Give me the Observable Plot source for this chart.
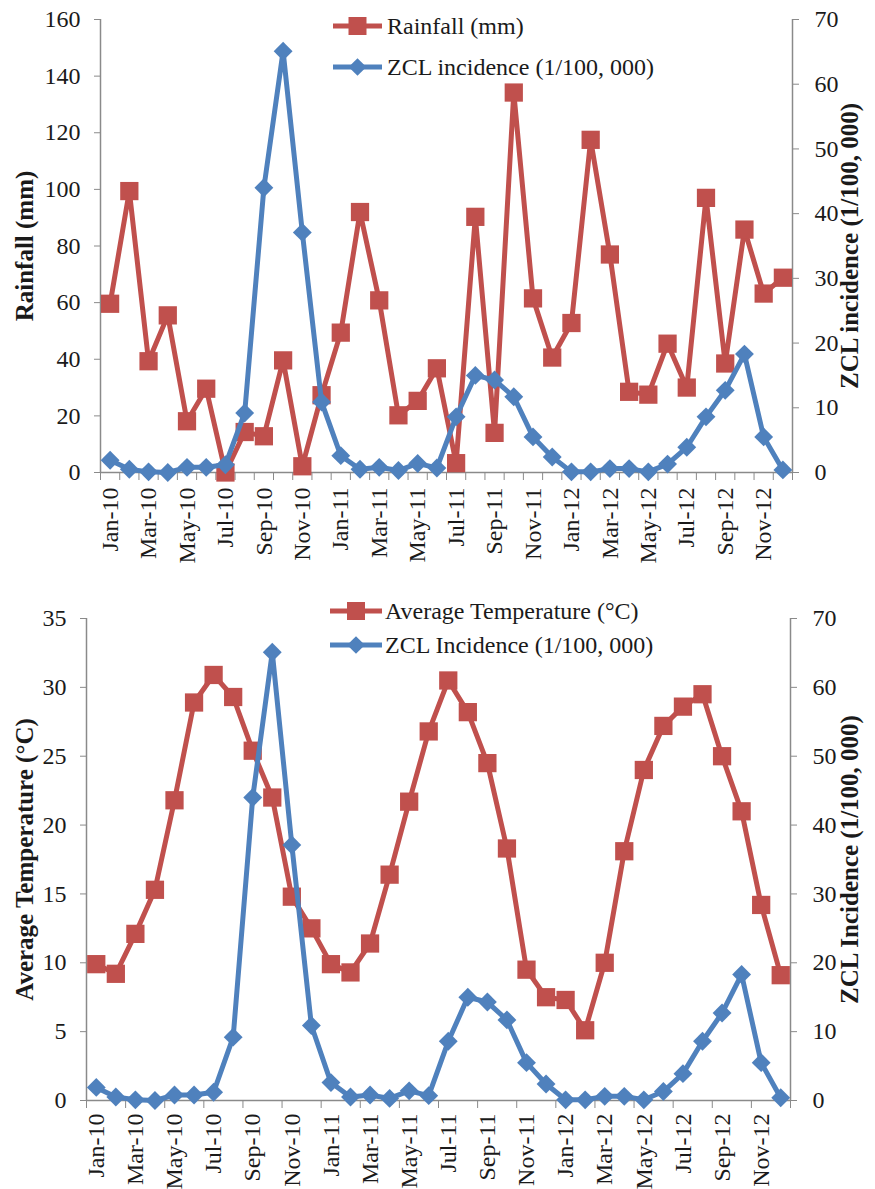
<!DOCTYPE html>
<html><head><meta charset="utf-8">
<script src="https://cdn.jsdelivr.net/npm/d3@7"></script>
<script src="https://cdn.jsdelivr.net/npm/@observablehq/plot@0.6"></script>
<style>
body{margin:0;background:#fff;font-family:"Liberation Serif","Times New Roman",serif;}
#wrap{position:relative;width:875px;height:1189px;overflow:hidden;}
.panel{position:absolute;left:0;}
.panel svg{overflow:visible;}
g[aria-label="y-axis label"] text{font-weight:bold;font-size:25px;}
.legend{position:absolute;left:0;top:0;}
</style></head><body>
<div id="wrap"></div>
<script>
const months = ["Jan-10","Feb-10","Mar-10","Apr-10","May-10","Jun-10","Jul-10","Aug-10","Sep-10","Oct-10","Nov-10","Dec-10",
"Jan-11","Feb-11","Mar-11","Apr-11","May-11","Jun-11","Jul-11","Aug-11","Sep-11","Oct-11","Nov-11","Dec-11",
"Jan-12","Feb-12","Mar-12","Apr-12","May-12","Jun-12","Jul-12","Aug-12","Sep-12","Oct-12","Nov-12","Dec-12"];
const rainfall = [59.6,99.4,39.3,55.5,18.1,29.6,0,14.3,12.8,39.6,2.2,27.3,
49.4,92,60.8,20.2,25.3,36.8,3.3,90.3,14,134.2,61.5,40.6,
52.8,117.5,77,28.5,27.5,45.5,30,97,38.5,85.8,63.2,68.8];
const zcl = [1.9,0.5,0.1,0,0.8,0.8,1.2,9.2,44,65.1,37.1,10.9,
2.6,0.5,0.8,0.3,1.4,0.7,8.6,15,14.3,11.7,5.5,2.4,
0.1,0.1,0.6,0.6,0.1,1.3,3.9,8.6,12.7,18.3,5.5,0.4];
const temperature = [9.9,9.2,12.1,15.3,21.8,28.9,30.9,29.3,25.4,22,14.8,12.5,
9.9,9.3,11.4,16.4,21.7,26.8,30.5,28.2,24.5,18.3,9.5,7.5,
7.3,5.1,10,18.1,24,27.2,28.6,29.5,25,21,14.2,9.1];
const rainTicks = [0,20,40,60,80,100,120,140,160];
const tempTicks = [0,5,10,15,20,25,30,35];
const zclTicks = [0,10,20,30,40,50,60,70];
const legendTop = ["Rainfall (mm)","ZCL incidence (1/100, 000)"];
const legendBottom = ["Average Temperature (\u00B0C)","ZCL Incidence (1/100, 000)"];
const titlesTop = ["Rainfall (mm)","ZCL incidence (1/100, 000)"];
const titlesBottom = ["Average Temperature (\u00B0C)","ZCL Incidence (1/100, 000)"];

const red = "#C0504D", blue = "#4F81BD", gray = "#8A8A8A", ink = "#1a1a1a";
const data = months.map((m,i)=>({i, m, rain: rainfall[i], zcl: zcl[i], temp: temperature[i]}));
const xDomain = [-0.5, months.length - 0.5];
const font = {fontFamily:"'Liberation Serif','Times New Roman',serif", fontSize:"24px", color: ink, background:"transparent", overflow:"visible"};

function panel({leftMax, leftTicks, leftKey, titles, boundaryStep, height, mL, mR, mT, mB, labelPad}) {
  const k = leftMax / 70;
  return Plot.plot({
    width: 875, height, marginLeft: mL, marginRight: mR, marginTop: mT, marginBottom: mB,
    style: font,
    x: {domain: xDomain, axis: null},
    y: {domain: [0, leftMax], axis: null},
    marks: [
      Plot.ruleX(xDomain, {stroke: gray, strokeWidth: 1.5}),
      Plot.ruleY([0], {stroke: gray, strokeWidth: 1.5}),
      Plot.axisY(leftTicks, {anchor:"left", tickSize:6, tickPadding:14, stroke: gray, fill: ink,
        label: titles[0], labelAnchor:"center", labelArrow:"none", labelOffset: mL - 15}),
      Plot.axisY(zclTicks.map(v => v*k), {anchor:"right", tickSize:6, tickPadding:16, stroke: gray, fill: ink,
        tickFormat: d => Math.round(d / k),
        label: titles[1], labelAnchor:"center", labelArrow:"none", labelOffset: mR - 18}),
      Plot.axisX(d3.range(0, months.length, 2), {anchor:"bottom", tickSize:0, tickPadding: labelPad, tickRotate:-90,
        tickFormat: i => months[i], label: null, fill: ink}),
      Plot.axisX(d3.range(xDomain[0], xDomain[1] + 0.01, boundaryStep), {anchor:"bottom", tickSize:8, text: null, label: null, stroke: gray}),
      Plot.line(data, {x:"i", y: leftKey, stroke: red, strokeWidth: 5}),
      Plot.dot(data, {x:"i", y: leftKey, symbol:"square", fill: red, r: 10.3}),
      Plot.line(data, {x:"i", y: d => d.zcl * k, stroke: blue, strokeWidth: 5}),
      Plot.dot(data, {x:"i", y: d => d.zcl * k, symbol:"diamond2", fill: blue, r: 8.5})
    ]
  });
}

const wrap = d3.select("#wrap");
const p1 = panel({leftMax:160, leftTicks: rainTicks, leftKey:"rain", titles: titlesTop, boundaryStep:1,
  height:575, mL:100, mR:83, mT:19, mB:103, labelPad:15});
wrap.append("div").attr("class","panel").style("top","0px").node().appendChild(p1);
const p2 = panel({leftMax:35, leftTicks: tempTicks, leftKey:"temp", titles: titlesBottom, boundaryStep:2,
  height:614, mL:86, mR:85, mT:43, mB:89, labelPad:13});
wrap.append("div").attr("class","panel").style("top","575px").node().appendChild(p2);

function legend(labels, x0, x1, tx, ys) {
  const svg = wrap.append("svg").attr("class","legend").attr("width",875).attr("height",1189);
  const specs = [{c: red, sym: d3.symbolSquare, size: 18*18}, {c: blue, sym: d3.symbolDiamond2 || d3.symbolDiamond, size: 200}];
  labels.forEach((t, j) => {
    const g = svg.append("g");
    g.append("line").attr("x1",x0).attr("x2",x1).attr("y1",ys[j]).attr("y2",ys[j]).attr("stroke",specs[j].c).attr("stroke-width",5);
    g.append("path").attr("d", d3.symbol(specs[j].sym, specs[j].size)()).attr("transform",`translate(${(x0+x1)/2},${ys[j]})`).attr("fill",specs[j].c);
    g.append("text").attr("x",tx).attr("y",ys[j]).attr("dy","0.35em").attr("fill",ink)
      .style("font-family","'Liberation Serif','Times New Roman',serif").style("font-size","24px").text(t);
  });
}
legend(legendTop, 333, 382, 387, [26, 67]);
legend(legendBottom, 330, 382, 385, [611, 645]);
</script>
</body></html>
